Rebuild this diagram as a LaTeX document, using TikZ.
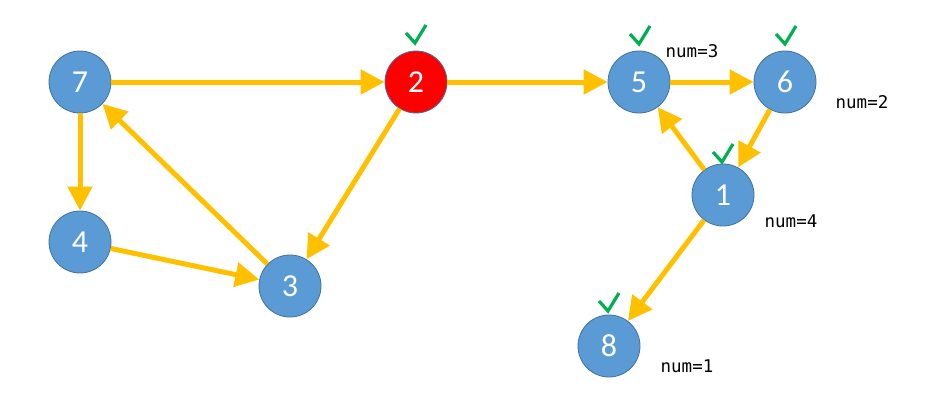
\documentclass[tikz,border=0pt]{standalone}
\usepackage{fontspec}
\setmainfont{Carlito}
\newfontfamily\monof{DejaVu Sans Mono}
\usetikzlibrary{arrows.meta}
\definecolor{nodeblue}{HTML}{5B9BD5}
\definecolor{nodeborder}{HTML}{41719C}
\definecolor{edgegold}{HTML}{FFC000}
\definecolor{checkgreen}{HTML}{00B050}
\tikzset{
  vtx/.style={circle, fill=nodeblue, draw=nodeborder, line width=0.8pt, minimum size=62pt, inner sep=0pt, text=white, font=\fontsize{32}{32}\selectfont},
  redvtx/.style={vtx, fill=red, draw=nodeborder},
  edge/.style={draw=edgegold, line width=5pt, -{Triangle[length=24pt,width=24pt]}},
  numlbl/.style={font=\monof\fontsize{17.5}{18}\selectfont, inner sep=0pt, text=black},
  chk/.style={draw=checkgreen, line width=3.2pt}
}
\begin{document}
\begin{tikzpicture}[x=1pt,y=-1pt]
\useasboundingbox (0,0) rectangle (927,394);
\node[vtx] (n7) at (80,82) {7};
\node[redvtx] (n2) at (416,82) {2};
\node[vtx] (n5) at (639,82) {5};
\node[vtx] (n6) at (785,82) {6};
\node[vtx] (n4) at (80,242) {4};
\node[vtx] (n3) at (290,286) {3};
\node[vtx] (n1) at (723,195) {1};
\node[vtx] (n8) at (609,346) {8};

\draw[edge] (n7) -- (n2);
\draw[edge] (n2) -- (n5);
\draw[edge] (n5) -- (n6);
\draw[edge] (n6) -- (n1);
\draw[edge] (n1) -- (n5);
\draw[edge] (n1) -- (n8);
\draw[edge] (n7) -- (n4);
\draw[edge] (n4) -- (n3);
\draw[edge] (n3) -- (n7);
\draw[edge] (n2) -- (n3);

\node[numlbl] (l5) at (692,51) {num=3};
\node[numlbl] (l6) at (862,102) {num=2};
\node[numlbl] (l1) at (791,221) {num=4};
\node[numlbl] (l8) at (687,366) {num=1};

\draw[chk] (406,33) -- (415,43) -- (426,25);
\draw[chk] (630,34) -- (639,44) -- (650,26);
\draw[chk] (776,34) -- (785,44) -- (796,26);
\draw[chk] (713,152) -- (722,162) -- (733,144);
\draw[chk] (599,301) -- (608,311) -- (619,293);
\end{tikzpicture}
\end{document}
